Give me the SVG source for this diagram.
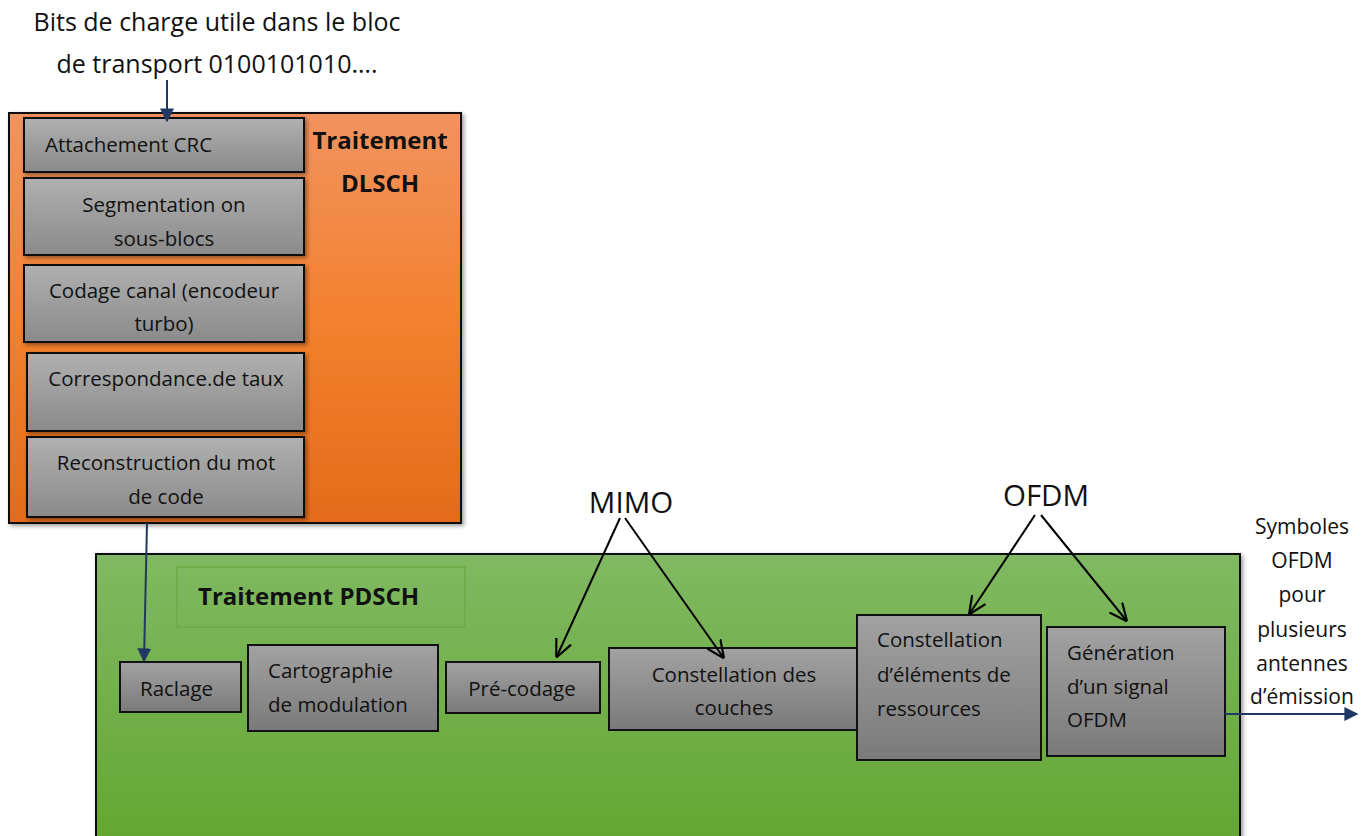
<svg xmlns="http://www.w3.org/2000/svg" width="1370" height="836" viewBox="0 0 1370 836">
<defs>
<linearGradient id="gOrange" x1="0" y1="0" x2="0" y2="1"><stop offset="0" stop-color="#F19360"/><stop offset="0.5" stop-color="#F3812E"/><stop offset="1" stop-color="#E36B1A"/></linearGradient>
<linearGradient id="gGreen" x1="0" y1="0" x2="0" y2="1"><stop offset="0" stop-color="#80B962"/><stop offset="1" stop-color="#63A731"/></linearGradient>
<linearGradient id="gGray" x1="0" y1="0" x2="0" y2="1"><stop offset="0" stop-color="#B0B0B0"/><stop offset="1" stop-color="#8A8A8A"/></linearGradient>
<linearGradient id="gGray2" x1="0" y1="0" x2="0" y2="1"><stop offset="0" stop-color="#A2A2A2"/><stop offset="1" stop-color="#7A7A7A"/></linearGradient>
<filter id="sh" x="-10%" y="-10%" width="125%" height="130%"><feDropShadow dx="2" dy="2" stdDeviation="2" flood-color="#000" flood-opacity="0.4"/></filter>
<marker id="navy" viewBox="0 0 10 10" refX="9" refY="5" markerWidth="14" markerHeight="14" markerUnits="userSpaceOnUse" orient="auto"><path d="M0,0 L10,5 L0,10 z" fill="#203864"/></marker>
<marker id="open" viewBox="0 0 10 10" refX="9" refY="5" markerWidth="18" markerHeight="18" markerUnits="userSpaceOnUse" orient="auto"><path d="M0,0.5 L10,5 L0,9.5" fill="none" stroke="#000" stroke-width="1.2"/></marker>
<style>
text{font-family:"Open Sans","Liberation Sans",sans-serif;font-size:20.5px;fill:#111}
.b{font-weight:bold;font-size:24px}
.c{text-anchor:middle}
.r{font-size:21px}
.big{font-size:29.5px}
.box1{fill:url(#gGray);stroke:#111;stroke-width:2}
.box2{fill:url(#gGray2);stroke:#111;stroke-width:2}
.nav{stroke:#203864;stroke-width:2;fill:none}
.blk{stroke:#000;stroke-width:2;fill:none}
</style>
</defs>

<g id="top-label">
<text class="c" x="217" y="31" style="font-size:25px">Bits de charge utile dans le bloc</text>
<text class="c" x="217" y="73" style="font-size:25px">de transport 0100101010….</text>
</g>

<g id="dlsch">
<rect x="9" y="113" width="452" height="410" fill="url(#gOrange)" stroke="#111" stroke-width="2" filter="url(#sh)"/>
<text class="b c" x="380" y="149">Traitement</text>
<text class="b c" x="380" y="192">DLSCH</text>
</g>
<g id="crc"><rect class="box1" x="24" y="118" width="280" height="54" filter="url(#sh)"/><text x="45" y="152">Attachement CRC</text></g>
<g id="segmentation"><rect class="box1" x="24" y="178" width="280" height="77" filter="url(#sh)"/><text class="c" x="164" y="212">Segmentation on</text><text class="c" x="164" y="246">sous-blocs</text></g>
<g id="codage"><rect class="box1" x="24" y="265" width="280" height="77" filter="url(#sh)"/><text class="c" x="164" y="298">Codage canal (encodeur</text><text class="c" x="164" y="331">turbo)</text></g>
<g id="correspondance"><rect class="box1" x="27" y="353" width="277" height="78" filter="url(#sh)"/><text class="c" x="166" y="386">Correspondance.de taux</text></g>
<g id="reconstruction"><rect class="box1" x="27" y="437" width="277" height="80" filter="url(#sh)"/><text class="c" x="166" y="470">Reconstruction du mot</text><text class="c" x="166" y="504">de code</text></g>

<g id="pdsch">
<rect x="96" y="554" width="1144" height="290" fill="url(#gGreen)" stroke="#111" stroke-width="2" filter="url(#sh)"/>
<rect x="177" y="567" width="288" height="60" fill="none" stroke="#6FAE4A" stroke-width="2"/>
<text class="b" x="198" y="605">Traitement PDSCH</text>
</g>
<g id="raclage"><rect class="box2" x="120" y="662" width="121" height="50"/><text x="140" y="696">Raclage</text></g>
<g id="cartographie"><rect class="box2" x="248" y="645" width="190" height="86"/><text x="268" y="678">Cartographie</text><text x="268" y="712">de modulation</text></g>
<g id="precodage"><rect class="box2" x="446" y="662" width="154" height="51"/><text class="c" x="522" y="696">Pré-codage</text></g>
<g id="couches"><rect class="box2" x="609" y="648" width="250" height="82"/><text class="c" x="734" y="682">Constellation des</text><text class="c" x="734" y="715">couches</text></g>
<g id="elements"><rect class="box2" x="857" y="615" width="184" height="145"/><text x="877" y="647">Constellation</text><text x="877" y="682">d’éléments de</text><text x="877" y="716">ressources</text></g>
<g id="generation"><rect class="box2" x="1047" y="627" width="178" height="129"/><text x="1067" y="660">Génération</text><text x="1067" y="694">d’un signal</text><text x="1067" y="727">OFDM</text></g>

<g id="mimo"><text class="c big" x="631" y="513">MIMO</text></g>
<g id="ofdm"><text class="c big" x="1046" y="506">OFDM</text></g>
<g id="output-label">
<text class="c r" x="1302" y="534">Symboles</text>
<text class="c r" x="1302" y="568">OFDM</text>
<text class="c r" x="1302" y="602">pour</text>
<text class="c r" x="1302" y="637">plusieurs</text>
<text class="c r" x="1302" y="671">antennes</text>
<text class="c r" x="1302" y="704">d’émission</text>
</g>

<g id="connectors">
<line class="nav" x1="167" y1="80" x2="167" y2="121" marker-end="url(#navy)"/>
<line class="nav" x1="147" y1="523" x2="144" y2="661" marker-end="url(#navy)"/>
<line class="nav" x1="1225" y1="714" x2="1357" y2="714" marker-end="url(#navy)"/>
<line class="blk" x1="620" y1="518" x2="557" y2="656" marker-end="url(#open)"/>
<line class="blk" x1="625" y1="518" x2="723" y2="657" marker-end="url(#open)"/>
<line class="blk" x1="1035" y1="515" x2="970" y2="613" marker-end="url(#open)"/>
<line class="blk" x1="1041" y1="515" x2="1126" y2="620" marker-end="url(#open)"/>
</g>
</svg>
